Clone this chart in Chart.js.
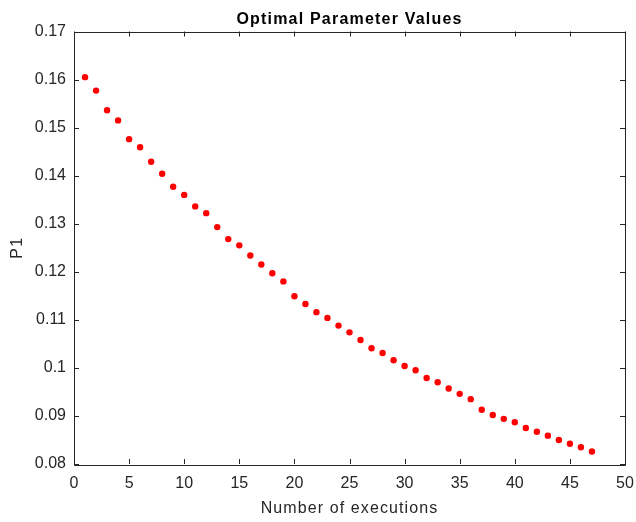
<!DOCTYPE html>
<html>
<head>
<meta charset="utf-8">
<script src="https://cdn.jsdelivr.net/npm/chart.js@4/dist/chart.umd.min.js"></script>
<style>
html,body{margin:0;padding:0;background:#fff;}
#wrap{width:636px;height:522px;}
</style>
</head>
<body>
<div id="wrap"><canvas id="c" width="636" height="522"></canvas></div>
<script>
const executions = [1,2,3,4,5,6,7,8,9,10,11,12,13,14,15,16,17,18,19,20,21,22,23,24,25,26,27,28,29,30,31,32,33,34,35,36,37,38,39,40,41,42,43,44,45,46,47];
const p1Values = [0.1605,0.1577,0.1536,0.1515,0.1476,0.1459,0.1429,0.1404,0.1377,0.1360,
  0.1336,0.1322,0.1293,0.1268,0.1255,0.1234,0.1215,0.1197,0.1180,0.1149,
  0.1133,0.1116,0.1104,0.1088,0.1074,0.1058,0.1041,0.1031,0.1016,0.1004,
  0.0995,0.0979,0.0970,0.0957,0.0946,0.0935,0.0913,0.0902,0.0894,0.0887,
  0.0875,0.0867,0.0859,0.0850,0.0842,0.0835,0.0826];
const xTicks = [0,5,10,15,20,25,30,35,40,45,50];
const yTicks = [0.08,0.09,0.10,0.11,0.12,0.13,0.14,0.15,0.16,0.17];
const titleText = 'Optimal Parameter Values';
const xTitle = 'Number of executions';
const yTitle = 'P1';

const FONT = '"Liberation Sans", Arial, Helvetica, sans-serif';
const AXC = '#262626';

function withSpacing(chart, fn, sp) {
  return function() {
    const ctx = chart.ctx;
    ctx.save();
    ctx.letterSpacing = sp;
    fn.apply(this, arguments);
    ctx.restore();
  };
}

const spacingPlugin = {
  id: 'spacing',
  afterLayout(chart) {
    ['x', 'y'].forEach(id => {
      const s = chart.scales[id];
      if (s && !s.__sp) { s.drawTitle = withSpacing(chart, s.drawTitle, '1.1px'); s.__sp = true; }
    });
    const t = chart.titleBlock;
    if (t && !t.__sp) { t.draw = withSpacing(chart, t.draw, '1.2px'); t.__sp = true; }
  }
};

const boxPlugin = {
  id: 'boxTicks',
  afterDraw(chart) {
    const {ctx, chartArea: {left, right, top, bottom}, scales: {x, y}} = chart;
    ctx.save();
    ctx.strokeStyle = AXC;
    ctx.lineWidth = 1;
    ctx.beginPath();
    ctx.rect(Math.round(left) + 0.5, Math.round(top) + 0.5, Math.round(right - left), Math.round(bottom - top));
    const L = 5;
    xTicks.forEach(v => {
      const px = Math.round(x.getPixelForValue(v)) + 0.5;
      ctx.moveTo(px, bottom); ctx.lineTo(px, bottom - L);
      ctx.moveTo(px, top); ctx.lineTo(px, top + L);
    });
    yTicks.forEach(v => {
      const py = Math.round(y.getPixelForValue(v)) + 0.5;
      ctx.moveTo(left, py); ctx.lineTo(left + L, py);
      ctx.moveTo(right, py); ctx.lineTo(right - L, py);
    });
    ctx.stroke();
    ctx.restore();
  }
};

new Chart(document.getElementById('c'), {
  type: 'scatter',
  data: {
    datasets: [{
      data: executions.map((e, i) => ({x: e, y: p1Values[i]})),
      backgroundColor: '#ff0000',
      borderColor: '#ff0000',
      pointRadius: 3.2,
      pointHoverRadius: 3.2,
      borderWidth: 0
    }]
  },
  options: {
    responsive: false,
    animation: false,
    events: [],
    layout: {padding: {left: 0, right: 11, top: 0, bottom: 0}},
    plugins: {
      legend: {display: false},
      tooltip: {enabled: false},
      title: {
        display: true,
        text: titleText,
        fullSize: false,
        color: '#000',
        font: {family: FONT, size: 16, weight: 'bold', lineHeight: 1.2},
        padding: {top: 9.5, bottom: 2.8}
      }
    },
    scales: {
      x: {
        type: 'linear',
        min: 0, max: 50,
        afterFit(s) { s.height = 58; s.paddingLeft = 0; s.paddingRight = 0; },
        afterBuildTicks(s) { s.ticks = xTicks.map(v => ({value: v})); },
        grid: {display: false, drawTicks: false},
        border: {display: false},
        ticks: {color: AXC, font: {family: FONT, size: 16}, padding: 10, maxRotation: 0,
          callback: v => String(v)},
        title: {display: true, text: xTitle, color: AXC, font: {family: FONT, size: 16},
          padding: {top: 0, bottom: 4}}
      },
      y: {
        type: 'linear',
        min: 0.08, max: 0.17,
        afterFit(s) { s.width = 74; s.paddingTop = 0; s.paddingBottom = 0; },
        afterBuildTicks(s) { s.ticks = yTicks.map(v => ({value: v})); },
        grid: {display: false, drawTicks: false},
        border: {display: false},
        ticks: {color: AXC, font: {family: FONT, size: 16}, padding: 8,
          callback: v => String(parseFloat(v.toFixed(2)))},
        title: {display: true, text: yTitle, color: AXC, font: {family: FONT, size: 16},
          padding: {top: 8, bottom: 0}}
      }
    }
  },
  plugins: [spacingPlugin, boxPlugin]
});
</script>
</body>
</html>
